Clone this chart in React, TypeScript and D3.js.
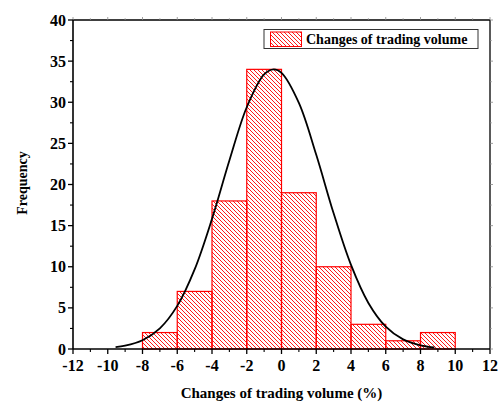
import React from "react";
import * as d3 from "d3";

const binStarts = [-8, -6, -4, -2, 0, 2, 4, 6, 8];
const binWidth = 2;
const frequencies = [2, 7, 18, 34, 19, 10, 3, 1, 2];

// fitted normal curve
const curveX = [-9.55, -9, -8, -7, -6, -5, -4, -3, -2, -1, -0.45, 0, 1, 2, 3, 4, 5, 6, 7, 8, 8.8];
const curveY = [0.22, 0.4, 1.07, 2.51, 5.24, 9.67, 15.82, 22.91, 29.39, 33.38, 34, 33.58, 29.92, 23.61, 16.5, 10.22, 5.6, 2.72, 1.17, 0.45, 0.19];

const xTicks = [-12, -10, -8, -6, -4, -2, 0, 2, 4, 6, 8, 10, 12];
const xMinor = [-11, -9, -7, -5, -3, -1, 1, 3, 5, 7, 9, 11];
const yTicks = [0, 5, 10, 15, 20, 25, 30, 35, 40];
const yMinor = [2.5, 7.5, 12.5, 17.5, 22.5, 27.5, 32.5, 37.5];

const legendLabel = "Changes of trading volume";
const xTitle = "Changes of trading volume (%)";
const yTitle = "Frequency";

const W = 499, H = 403;
const L = 73, R = 490, T = 20, B = 349;
const RED = "#ff0000";
const FONT = '"Liberation Serif", "DejaVu Serif", serif';

export default function App() {
  const x = d3.scaleLinear().domain([-12, 12]).range([L, R]);
  const y = d3.scaleLinear().domain([0, 40]).range([B, T]);
  const pts: [number, number][] = curveX.map((v, i) => [v, curveY[i]]);
  const line = d3
    .line<[number, number]>()
    .x((d) => x(d[0]))
    .y((d) => y(d[1]))
    .curve(d3.curveCatmullRom.alpha(0.5));
  const ts = { fontFamily: FONT, fontWeight: 700 } as React.CSSProperties;

  return (
    <svg width={W} height={H} style={{ position: "absolute", left: 0, top: 0, fontFamily: FONT }}>
      <defs>
        <pattern id="hatch" patternUnits="userSpaceOnUse" width={4} height={4}>
          <path d="M-1,-1 L5,5 M-1,3 L1,5 M3,-1 L5,1" stroke={RED} strokeWidth={0.9} />
        </pattern>
      </defs>
      <rect x={0} y={0} width={W} height={H} fill="#fff" />
      {binStarts.map((s, i) => (
        <rect
          key={i}
          x={x(s)}
          y={y(frequencies[i])}
          width={x(s + binWidth) - x(s)}
          height={y(0) - y(frequencies[i])}
          fill="url(#hatch)"
          stroke={RED}
          strokeWidth={1.2}
        />
      ))}
      <path d={line(pts) || ""} fill="none" stroke="#000" strokeWidth={1.8} />
      <line x1={L} x2={R} y1={T} y2={T} stroke="#000" strokeWidth={1.3} />
      <line x1={R} x2={R} y1={T} y2={B} stroke="#000" strokeWidth={1.3} />
      <line x1={L} x2={R} y1={B} y2={B} stroke="#000" strokeWidth={1.6} />
      <line x1={L} x2={L} y1={T} y2={B} stroke="#000" strokeWidth={1.6} />
      {xTicks.map((t) => (
        <g key={"xt" + t}>
          <line x1={x(t)} x2={x(t)} y1={B} y2={B + 5} stroke="#000" strokeWidth={1.3} />
          <line x1={x(t)} x2={x(t)} y1={T} y2={T - 3} stroke="#888" strokeWidth={0.8} />
          <text x={x(t)} y={B + 22} textAnchor="middle" fontSize={16} style={ts}>
            {t}
          </text>
        </g>
      ))}
      {xMinor.map((t) => (
        <g key={"xm" + t}>
          <line x1={x(t)} x2={x(t)} y1={B} y2={B + 3} stroke="#000" strokeWidth={1.1} />
          <line x1={x(t)} x2={x(t)} y1={T} y2={T - 2} stroke="#999" strokeWidth={0.7} />
        </g>
      ))}
      {yTicks.map((t) => (
        <g key={"yt" + t}>
          <line x1={L} x2={L - 5} y1={y(t)} y2={y(t)} stroke="#000" strokeWidth={1.3} />
          <line x1={R} x2={R + 3} y1={y(t)} y2={y(t)} stroke="#888" strokeWidth={0.8} />
          <text x={L - 7} y={y(t) + 5.5} textAnchor="end" fontSize={16} style={ts}>
            {t}
          </text>
        </g>
      ))}
      {yMinor.map((t) => (
        <g key={"ym" + t}>
          <line x1={L} x2={L - 3} y1={y(t)} y2={y(t)} stroke="#000" strokeWidth={1.1} />
          <line x1={R} x2={R + 2} y1={y(t)} y2={y(t)} stroke="#999" strokeWidth={0.7} />
        </g>
      ))}
      <text x={x(0)} y={398} textAnchor="middle" fontSize={15} style={ts}>
        {xTitle}
      </text>
      <text transform={`translate(27,183) rotate(-90)`} textAnchor="middle" fontSize={14} style={ts}>
        {yTitle}
      </text>
      <rect x={264} y={29.5} width={214} height={19} fill="#fff" stroke="#333" strokeWidth={1} />
      <rect x={270.5} y={32} width={31} height={14.5} fill="url(#hatch)" stroke={RED} strokeWidth={1} />
      <text x={306} y={44} fontSize={14} style={ts}>
        {legendLabel}
      </text>
    </svg>
  );
}
